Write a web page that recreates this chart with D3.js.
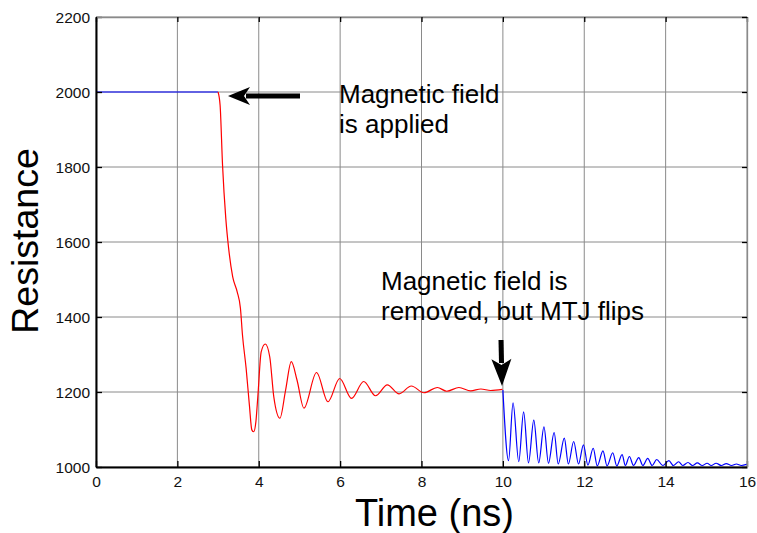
<!DOCTYPE html>
<html>
<head>
<meta charset="utf-8">
<script src="https://cdn.jsdelivr.net/npm/d3@7"></script>
<style>
  body { margin: 0; background: #fff; }
  text { font-family: "Liberation Sans", Arial, sans-serif; }
</style>
</head>
<body>
<div id="chart"></div>
<script>
// dimensions
var width = 757;
var height = 533;
var margin = {top: 17, right: 10, bottom: 66, left: 96};

// data: time in ns, resistance
var flatTime = [0, 3.0];
var flatRes = [2000, 2000];

var redTime = [3.00, 3.05, 3.11, 3.19, 3.26, 3.36, 3.47, 3.55, 3.60, 3.69, 3.77, 3.83, 3.875, 3.93, 3.98,
    4.06, 4.16, 4.27, 4.37, 4.52, 4.66, 4.80, 4.94, 5.11, 5.42, 5.70, 5.99, 6.28, 6.58, 6.87,
    7.16, 7.45, 7.75, 8.06, 8.39, 8.62, 8.92, 9.21, 9.46, 9.70, 9.99];
var redRes = [2000, 1965, 1805, 1663, 1583, 1507, 1467, 1423, 1352, 1263, 1165, 1099, 1094, 1121, 1192,
    1307, 1328, 1294, 1187, 1130, 1205, 1281, 1232, 1157, 1252, 1174, 1236, 1183, 1228, 1190,
    1219, 1195, 1216, 1198, 1212, 1202, 1212, 1203, 1208, 1204, 1207];

var blueTime = [10.00, 10.14, 10.25, 10.39, 10.51, 10.63, 10.76, 10.88, 11.01, 11.12, 11.26, 11.36,
    11.51, 11.61, 11.74, 11.86, 11.98, 12.09, 12.22, 12.32, 12.46, 12.56, 12.70, 12.80, 12.93,
    13.01, 13.11, 13.21, 13.34, 13.44, 13.56, 13.67, 13.78, 13.93, 14.08, 14.19, 14.32, 14.42,
    14.55, 14.66, 14.78, 14.90, 15.02, 15.12, 15.24, 15.37, 15.49, 15.62, 15.74, 15.86, 15.99];
var blueRes = [1205, 1017, 1171, 1014, 1147, 1011, 1125, 1011, 1107, 1010, 1092, 1008,
    1077, 1008, 1068, 1008, 1059, 1005, 1050, 1003, 1043, 1003, 1038, 1003, 1033,
    1004, 1028, 1004, 1025, 1004, 1023, 1004, 1020, 1004, 1017, 1004, 1014, 1004,
    1012, 1004, 1011, 1004, 1010, 1004, 1010, 1004, 1009, 1004, 1008, 1004, 1007];

var xTicks = [0, 2, 4, 6, 8, 10, 12, 14, 16];
var yTicks = [1000, 1200, 1400, 1600, 1800, 2000, 2200];

var noteApplied = ["Magnetic field", "is applied"];
var noteRemoved = ["Magnetic field is", "removed, but MTJ flips"];

var svg = d3.select("#chart")
    .append("svg")
    .attr("width", width)
    .attr("height", height);

var x = d3.scaleLinear().domain([0, 16]).range([margin.left, width - margin.right]);
var y = d3.scaleLinear().domain([1000, 2200]).range([height - margin.bottom, margin.top]);

var x0 = x.range()[0], x1 = x.range()[1];
var y0 = y.range()[0], y1 = y.range()[1];

// grid
svg.append("g")
    .selectAll("line")
    .data(xTicks)
    .enter()
    .append("line")
    .attr("x1", function (d) { return x(d); })
    .attr("x2", function (d) { return x(d); })
    .attr("y1", y1)
    .attr("y2", y0)
    .attr("stroke", "#8a8a8a")
    .attr("stroke-width", 1);

svg.append("g")
    .selectAll("line")
    .data(yTicks)
    .enter()
    .append("line")
    .attr("x1", x0)
    .attr("x2", x1)
    .attr("y1", function (d) { return y(d); })
    .attr("y2", function (d) { return y(d); })
    .attr("stroke", "#8a8a8a")
    .attr("stroke-width", 1);

// lines
function series(ts, rs) {
    return ts.map(function (t, i) { return [t, rs[i]]; });
}

var line = d3.line()
    .x(function (d) { return x(d[0]); })
    .y(function (d) { return y(d[1]); })
    .curve(d3.curveMonotoneX);

svg.append("path")
    .attr("d", line(series(flatTime, flatRes)))
    .attr("fill", "none")
    .attr("stroke", "#0000ff")
    .attr("stroke-width", 1.2);

svg.append("path")
    .attr("d", line(series(redTime, redRes)))
    .attr("fill", "none")
    .attr("stroke", "#ff0000")
    .attr("stroke-width", 1.2);

svg.append("path")
    .attr("d", line(series(blueTime, blueRes)))
    .attr("fill", "none")
    .attr("stroke", "#0000ff")
    .attr("stroke-width", 1.2);

// axes (matlab style, ticks inward on all sides)
var fmt = d3.format("d");
var axBottom = svg.append("g")
    .attr("transform", "translate(0," + y0 + ")")
    .call(d3.axisBottom(x).tickValues(xTicks).tickFormat(fmt).tickSizeInner(-6).tickSizeOuter(0).tickPadding(9));
var axLeft = svg.append("g")
    .attr("transform", "translate(" + x0 + ",0)")
    .call(d3.axisLeft(y).tickValues(yTicks).tickFormat(fmt).tickSizeInner(-6).tickSizeOuter(0).tickPadding(6));
var axTop = svg.append("g")
    .attr("transform", "translate(0," + y1 + ")")
    .call(d3.axisTop(x).tickValues(xTicks).tickSizeInner(-5).tickSizeOuter(0).tickFormat(""));
var axRight = svg.append("g")
    .attr("transform", "translate(" + x1 + ",0)")
    .call(d3.axisRight(y).tickValues(yTicks).tickSizeInner(-5).tickSizeOuter(0).tickFormat(""));

[axBottom, axLeft, axTop, axRight].forEach(function (g) {
    g.selectAll(".tick line").attr("stroke", "#000").attr("stroke-width", 1.3);
    g.selectAll("text")
        .attr("fill", "#111")
        .attr("font-size", "15.5px")
        .style("font-family", "'Liberation Sans', Arial, sans-serif");
});
axBottom.select(".domain").attr("stroke", "#000").attr("stroke-width", 2);
axLeft.select(".domain").attr("stroke", "#000").attr("stroke-width", 2);
axTop.select(".domain").attr("stroke", "#8a8a8a").attr("stroke-width", 1.3);
axRight.select(".domain").attr("stroke", "#8a8a8a").attr("stroke-width", 1.3);
axLeft.selectAll("text").attr("dy", "0.36em");

// axis titles
svg.append("text")
    .attr("x", (x0 + x1) / 2 + 13)
    .attr("y", 526)
    .attr("text-anchor", "middle")
    .attr("font-size", "38px")
    .attr("fill", "#000")
    .text("Time (ns)");

svg.append("text")
    .attr("transform", "translate(38," + 241 + ") rotate(-90)")
    .attr("text-anchor", "middle")
    .attr("font-size", "37.5px")
    .attr("fill", "#000")
    .text("Resistance");

// annotations
function note(lines, px, py) {
    svg.append("g").selectAll("text")
        .data(lines)
        .enter()
        .append("text")
        .attr("x", px)
        .attr("y", function (d, i) { return py + i * 29.5; })
        .attr("font-size", "26px")
        .attr("fill", "#000")
        .text(function (d) { return d; });
}
note(noteApplied, 339, 103);
note(noteRemoved, 381, 290);

// arrows
function arrow(xa, ya, xb, yb, headLen, headW) {
    var ang = Math.atan2(yb - ya, xb - xa);
    var bx = xb - headLen * Math.cos(ang), by = yb - headLen * Math.sin(ang);
    svg.append("line")
        .attr("x1", xa).attr("y1", ya)
        .attr("x2", bx + 4 * Math.cos(ang)).attr("y2", by + 4 * Math.sin(ang))
        .attr("stroke", "#000")
        .attr("stroke-width", 5);
    var nx = -Math.sin(ang), ny = Math.cos(ang);
    var pts = [[xb, yb], [bx + headW * nx, by + headW * ny], [bx + 6 * Math.cos(ang), by + 6 * Math.sin(ang)], [bx - headW * nx, by - headW * ny]];
    svg.append("path")
        .attr("d", "M" + pts.map(function (p) { return p.join(","); }).join("L") + "Z")
        .attr("fill", "#000");
}
arrow(300, 96, 228, 96, 22, 9);
arrow(501, 340, 502, 386, 27, 10);
</script>
</body>
</html>
